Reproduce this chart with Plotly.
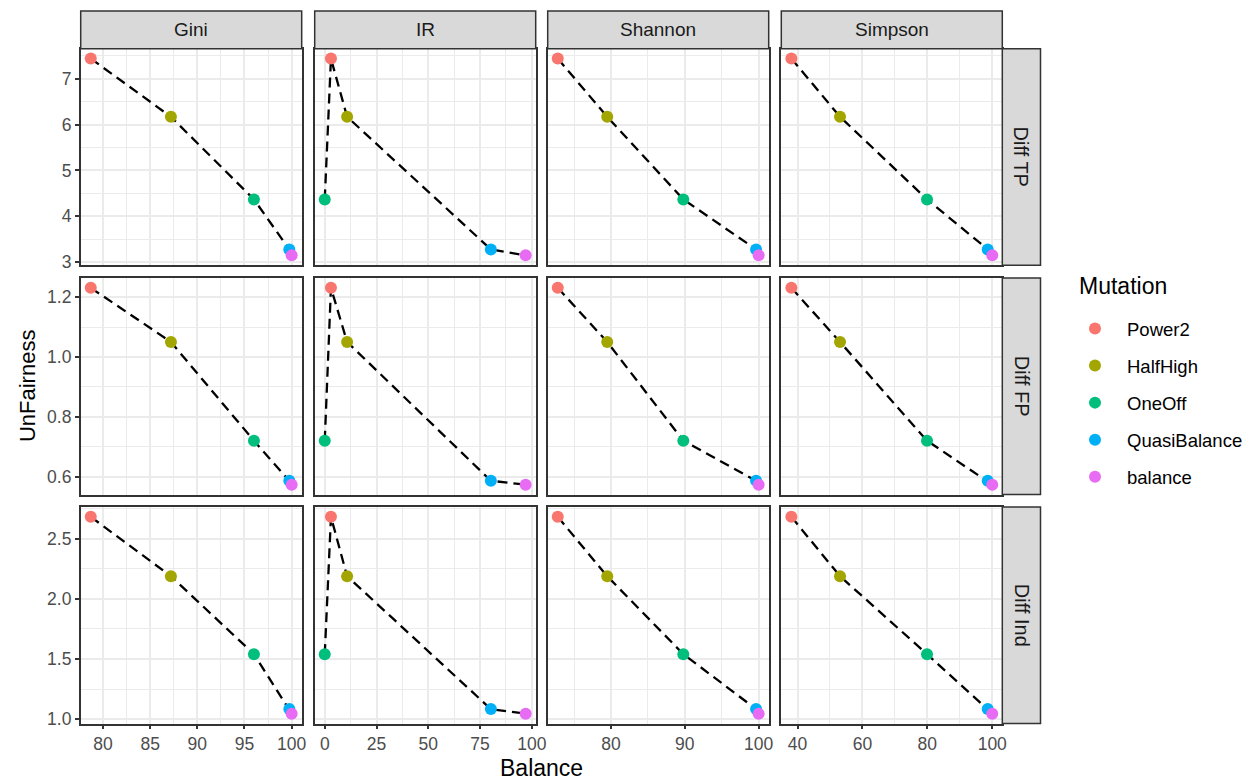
import plotly.graph_objects as go

# ---------------- data ----------------
mutations = ["Power2", "HalfHigh", "OneOff", "QuasiBalance", "balance"]
colors = ["#F8766D", "#A3A500", "#00BF7D", "#00B0F6", "#E76BF3"]

measures = ["Gini", "IR", "Shannon", "Simpson"]
balance_gini = [78.7, 87.2, 96.0, 99.75, 100.0]
balance_ir = [3.0, 10.8, 0.0, 80.2, 97.0]
balance_shannon = [72.8, 79.5, 89.8, 99.65, 100.0]
balance_simpson = [38.1, 53.1, 79.9, 98.6, 100.0]
balance_by_measure = [balance_gini, balance_ir, balance_shannon, balance_simpson]

metrics = ["Diff TP", "Diff FP", "Diff Ind"]
unfair_tp = [7.44, 6.17, 4.37, 3.28, 3.15]
unfair_fp = [1.231, 1.050, 0.720, 0.586, 0.573]
unfair_ind = [2.682, 2.188, 1.540, 1.083, 1.045]
unfair_by_metric = [unfair_tp, unfair_fp, unfair_ind]

x_ticks = [[80, 85, 90, 95, 100], [0, 25, 50, 75, 100], [80, 90, 100], [40, 60, 80, 100]]
x_minor = [2.5, 12.5, 5, 10]
y_ticks = [[3, 4, 5, 6, 7], [0.6, 0.8, 1.0, 1.2], [1.0, 1.5, 2.0, 2.5]]
y_tick_text = [["3", "4", "5", "6", "7"], ["0.6", "0.8", "1.0", "1.2"], ["1.0", "1.5", "2.0", "2.5"]]
y_minor = [0.5, 0.1, 0.25]

# ---------------- layout geometry (window pixels) ----------------
OFF = 8  # default page body margin
W, H = 1254 - OFF, 783 - OFF
col_left = [80.7, 314.7, 547.7, 781.3]
col_w = 221.0
row_top = [48.7, 278.0, 507.0]
row_h = 216.5
strip_top = 11.0
rstrip_x0, rstrip_x1 = 1002.3, 1040.5

FONT = "Liberation Sans, Arial, Helvetica, sans-serif"
GRID = "#EBEBEB"
DARK = "#333333"


def px(x):
    return (x - OFF) / W


def py(y):
    return 1 - (y - OFF) / H


def expand(vals):
    lo, hi = min(vals), max(vals)
    d = (hi - lo) * 0.05
    return [lo - d, hi + d]


fig = go.Figure()
layout = {}
shapes = []
annotations = []

for r in range(3):
    for c in range(4):
        idx = r * 4 + c + 1
        xs = balance_by_measure[c]
        ys = unfair_by_metric[r]
        xa = "x" if idx == 1 else f"x{idx}"
        ya = "y" if idx == 1 else f"y{idx}"
        order = sorted(range(len(xs)), key=lambda i: xs[i])
        fig.add_trace(go.Scatter(
            x=[xs[i] for i in order], y=[ys[i] for i in order],
            mode="lines", line=dict(color="black", width=2.3, dash="10px,6px"),
            showlegend=False, hoverinfo="skip", xaxis=xa, yaxis=ya))
        for k, m in enumerate(mutations):
            fig.add_trace(go.Scatter(
                x=[xs[k]], y=[ys[k]], mode="markers", name=m,
                marker=dict(color=colors[k], size=12, line=dict(width=0)),
                legendgroup=m, showlegend=(idx == 1), xaxis=xa, yaxis=ya))

        xkey = "xaxis" if idx == 1 else f"xaxis{idx}"
        ykey = "yaxis" if idx == 1 else f"yaxis{idx}"
        x0 = col_left[c]
        y0 = row_top[r]
        layout[xkey] = dict(
            domain=[px(x0), px(x0 + col_w)],
            anchor=ya, range=expand(xs), automargin=False,
            tickmode="array", tickvals=x_ticks[c],
            ticktext=[str(v) for v in x_ticks[c]],
            showticklabels=(r == 2),
            ticks="outside" if r == 2 else "", ticklen=4, tickwidth=1.5, tickcolor=DARK,
            tickfont=dict(family=FONT, size=17.5, color="#4D4D4D"),
            showgrid=True, gridcolor=GRID, gridwidth=2,
            minor=dict(dtick=x_minor[c], tick0=x_ticks[c][0], showgrid=True,
                       gridcolor=GRID, gridwidth=1, ticks=""),
            zeroline=False, showline=True, mirror=True, linecolor=DARK, linewidth=1.5,
        )
        layout[ykey] = dict(
            domain=[py(y0 + row_h), py(y0)],
            anchor=xa, range=expand(ys), automargin=False,
            tickmode="array", tickvals=y_ticks[r], ticktext=y_tick_text[r],
            showticklabels=(c == 0),
            ticks="outside" if c == 0 else "", ticklen=4, tickwidth=1.5, tickcolor=DARK,
            tickfont=dict(family=FONT, size=17.5, color="#4D4D4D"),
            showgrid=True, gridcolor=GRID, gridwidth=2,
            minor=dict(dtick=y_minor[r], tick0=y_ticks[r][0], showgrid=True,
                       gridcolor=GRID, gridwidth=1, ticks=""),
            zeroline=False, showline=True, mirror=True, linecolor=DARK, linewidth=1.5,
        )

# column strips
for c, name in enumerate(measures):
    x0 = col_left[c]
    shapes.append(dict(type="rect", xref="paper", yref="paper",
                       x0=px(x0), x1=px(x0 + col_w), y0=py(row_top[0]), y1=py(strip_top),
                       fillcolor="#D9D9D9", line=dict(color=DARK, width=1.5), layer="above"))
    annotations.append(dict(text=name, xref="paper", yref="paper",
                            x=px(x0 + col_w / 2), y=py((strip_top + row_top[0]) / 2),
                            showarrow=False, xanchor="center", yanchor="middle",
                            font=dict(family=FONT, size=19, color="#1A1A1A")))
# row strips
for r, name in enumerate(metrics):
    y0 = row_top[r]
    shapes.append(dict(type="rect", xref="paper", yref="paper",
                       x0=px(rstrip_x0), x1=px(rstrip_x1), y0=py(y0 + row_h), y1=py(y0),
                       fillcolor="#D9D9D9", line=dict(color=DARK, width=1.5), layer="above"))
    annotations.append(dict(text=name, xref="paper", yref="paper",
                            x=px((rstrip_x0 + rstrip_x1) / 2), y=py(y0 + row_h / 2),
                            showarrow=False, xanchor="center", yanchor="middle", textangle=90,
                            font=dict(family=FONT, size=20, color="#1A1A1A")))

# axis titles
annotations.append(dict(text="Balance", xref="paper", yref="paper",
                        x=px((col_left[0] + col_left[3] + col_w) / 2), y=py(768),
                        showarrow=False, xanchor="center", yanchor="middle",
                        font=dict(family=FONT, size=23, color="black")))
annotations.append(dict(text="UnFairness", xref="paper", yref="paper",
                        x=px(27), y=py((row_top[0] + row_top[2] + row_h) / 2),
                        showarrow=False, xanchor="center", yanchor="middle", textangle=-90,
                        font=dict(family=FONT, size=22, color="black")))
# legend title
annotations.append(dict(text="Mutation", xref="paper", yref="paper",
                        x=px(1077), y=py(286),
                        showarrow=False, xanchor="left", yanchor="middle",
                        font=dict(family=FONT, size=23, color="black")))

fig.update_layout(
    width=W, height=H,
    margin=dict(l=0, r=0, t=0, b=0, autoexpand=False),
    paper_bgcolor="white", plot_bgcolor="white",
    shapes=shapes, annotations=annotations,
    showlegend=True,
    legend=dict(
        font=dict(family=FONT, size=18.5, color="black"),
        x=px(1063), y=py(310), xanchor="left", yanchor="top",
        tracegroupgap=10, itemsizing="constant", itemwidth=54,
        bgcolor="rgba(0,0,0,0)",
    ),
    **layout,
)

fig.write_html("out.html")
